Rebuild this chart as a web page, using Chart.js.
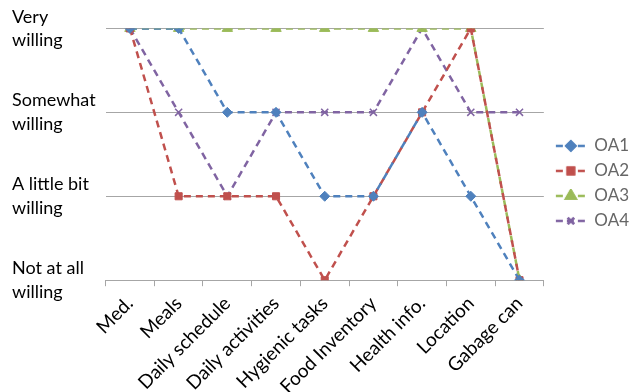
<!DOCTYPE html>
<html>
<head>
<meta charset="utf-8">
<script src="https://cdn.jsdelivr.net/npm/chart.js@4/dist/chart.umd.min.js"></script>
<style>
  html, body { margin: 0; padding: 0; background: #fff; }
  #wrap { width: 639px; height: 392px; }
</style>
</head>
<body>
<div id="wrap"><canvas id="chart" width="639" height="392"></canvas></div>
<script>
const categories = ['Med.', 'Meals', 'Daily schedule', 'Daily activities', 'Hygienic tasks',
    'Food Inventory', 'Health info.', 'Location', 'Gabage can'];
const yLabels = [['Not at all', 'willing'], ['A little bit', 'willing'], ['Somewhat', 'willing'], ['Very', 'willing']];

const oa1 = [3, 3, 2, 2, 1, 1, 2, 1, 0];
const oa2 = [3, 1, 1, 1, 0, 1, 2, 3, 0];
const oa3 = [3, 3, 3, 3, 3, 3, 3, 3, 0];
const oa4 = [3, 2, 1, 2, 2, 2, 3, 2, 2];

const colors = ['#4F81BD', '#C0504D', '#9BBB59', '#8064A2'];
const markers = ['rectRot', 'rect', 'triangle', 'crossRot'];
const radii = [5, 5, 6, 5];

// small canvas used as legend symbol: dashed line with the marker on it
function legendSymbol(i) {
    const c = document.createElement('canvas');
    c.width = 34; c.height = 14;
    const ctx = c.getContext('2d');
    ctx.strokeStyle = colors[i];
    ctx.lineWidth = 2.5;
    ctx.setLineDash([7, 4]);
    ctx.beginPath();
    ctx.moveTo(4, 7); ctx.lineTo(34, 7);
    ctx.stroke();
    ctx.setLineDash([]);
    ctx.fillStyle = colors[i];
    Chart.helpers.drawPoint(ctx, { pointStyle: markers[i], radius: radii[i] - 0.5, rotation: 0, borderWidth: 1.5 }, 19, 7);
    ctx.fill();
    ctx.stroke();
    return c;
}

function makeSet(label, data, i) {
    return {
        label: label,
        data: data,
        borderColor: colors[i],
        backgroundColor: colors[i],
        borderWidth: 2.5,
        borderDash: [7, 5],
        tension: 0,
        fill: false,
        pointStyle: markers[i],
        pointRadius: radii[i],
        pointBorderWidth: markers[i] === 'crossRot' ? 1.5 : 1,
        pointBorderColor: colors[i],
        pointBackgroundColor: colors[i]
    };
}

const font = "Lato, 'Open Sans', sans-serif";

new Chart(document.getElementById('chart'), {
    type: 'line',
    data: {
        labels: categories,
        datasets: [
            makeSet('OA1', oa1, 0),
            makeSet('OA2', oa2, 1),
            makeSet('OA3', oa3, 2),
            makeSet('OA4', oa4, 3)
        ]
    },
    options: {
        responsive: false,
        animation: false,
        layout: { padding: { left: 12, top: 8, right: 0, bottom: -12 } },
        plugins: {
            tooltip: { enabled: false },
            legend: {
                position: 'right',
                align: 'start',
                title: { display: true, text: ' ', font: { size: 12 }, padding: { top: 107, bottom: 0 } },
                labels: {
                    usePointStyle: true,
                    pointStyleWidth: 34,
                    boxHeight: 14,
                    padding: 8,
                    color: '#000',
                    font: { family: font, size: 17 },
                    generateLabels: chart => chart.data.datasets.map((ds, i) => ({
                        text: ds.label,
                        pointStyle: legendSymbol(i),
                        fillStyle: colors[i],
                        strokeStyle: colors[i],
                        lineWidth: 0,
                        datasetIndex: i
                    }))
                }
            }
        },
        scales: {
            x: {
                offset: true,
                grid: { display: true, drawOnChartArea: false, tickLength: 6, color: '#A6A6A6', offset: true },
                border: { display: true, color: '#A6A6A6' },
                ticks: {
                    color: '#000',
                    font: { family: font, size: 19 },
                    minRotation: 45,
                    maxRotation: 45,
                    autoSkip: false,
                    padding: 6
                }
            },
            y: {
                min: 0,
                max: 3,
                grid: { color: '#A6A6A6', drawTicks: false },
                border: { display: false },
                ticks: {
                    stepSize: 1,
                    color: '#000',
                    padding: 5,
                    crossAlign: 'far',
                    font: { family: font, size: 18, lineHeight: 1.3 },
                    callback: v => yLabels[v]
                }
            }
        }
    }
});
</script>
</body>
</html>
